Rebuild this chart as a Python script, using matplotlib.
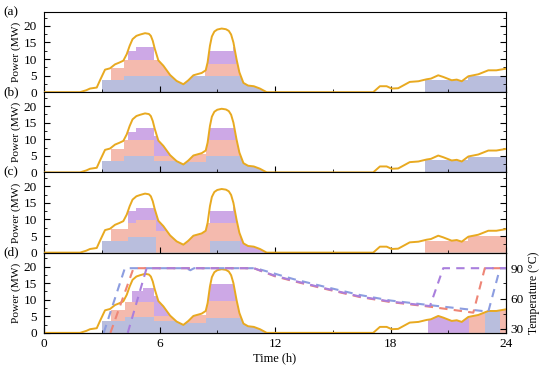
import numpy as np
import matplotlib
matplotlib.use('Agg')
import matplotlib.pyplot as plt
from matplotlib.patches import Polygon
from matplotlib.ticker import MultipleLocator

plt.rcParams['font.family'] = ['Liberation Serif', 'DejaVu Serif']

# load curve (h, MW), same in every panel
load_t = [0, 1.87, 2.2, 2.39, 2.74, 2.91, 3.17, 3.43, 3.69, 3.9, 4.12, 4.3, 4.45, 4.6, 4.8, 5.0, 5.25,
          5.45, 5.55, 5.65, 5.75, 5.94, 6.2, 6.55, 6.89, 7.24, 7.5, 7.76, 8.19, 8.4, 8.5, 8.62, 8.72,
          8.85, 9.0, 9.23, 9.45, 9.6, 9.72, 9.84, 10.0, 10.15, 10.36, 10.6, 10.9, 11.22, 11.57, 17.1,
          17.45, 17.8, 18.06, 18.4, 19.0, 19.45, 19.88, 20.1, 20.48, 20.74, 21.18, 21.44, 21.7,
          22.04, 22.56, 23.08, 23.5, 24]
load_p = [0, 0, 0.6, 1.1, 1.4, 3.6, 6.8, 7.2, 8.4, 8.9, 9.5, 11.5, 14.0, 16.0, 17.0, 17.4, 17.8,
          17.6, 17.0, 15.5, 13.2, 9.6, 8.0, 5.2, 3.4, 2.4, 3.6, 5.1, 5.8, 6.6, 9.0, 14.0, 16.8,
          18.3, 18.9, 19.2, 19.0, 18.5, 17.4, 15.0, 10.0, 6.0, 2.8, 2.0, 1.8, 1.1, 0, 0,
          1.8, 1.8, 1.1, 1.2, 3.1, 3.3, 3.9, 4.1, 5.1, 4.6, 3.6, 3.8, 3.3,
          4.8, 5.4, 6.6, 6.6, 7.1]

# stacked step layers per panel: breakpoints (h) and levels (MW) for blue, pink, purple
a_t = [0, 3.0, 3.5, 4.15, 4.35, 4.8, 5.7, 7.0, 8.35, 8.5, 9.8, 10.0, 11.6, 19.8, 22.0, 24]
a_blue = [0, 3.6, 3.6, 5, 5, 5, 5, 5, 5, 5, 5, 5, 0, 3.6, 4.8]
a_pink = [0, 0, 3.7, 4.7, 4.7, 4.7, 4.7, 0, 3.6, 3.6, 3.6, 3.6, 0, 0, 0]
a_purp = [0, 0, 0, 0, 2.6, 4.0, 0, 0, 0, 3.8, 5.0, 0, 0, 0, 0]

b_t = [0, 3.0, 3.5, 4.15, 4.35, 4.8, 5.7, 7.2, 8.4, 8.55, 10.0, 11.6, 19.8, 22.0, 24]
b_blue = [0, 3.5, 3.5, 5, 5, 5, 3.5, 3.0, 5, 5, 5, 0, 3.6, 4.8]
b_pink = [0, 0, 3.6, 4.75, 4.75, 4.75, 1.5, 2.5, 4.75, 4.75, 4.75, 0, 0, 0]
b_purp = [0, 0, 0, 0, 2.3, 3.75, 6, 0, 0, 3.75, 0, 0, 0, 0]

c_t = [0, 3.0, 3.5, 4.35, 4.8, 5.8, 7.2, 8.6, 9.8, 10.2, 11.6, 19.8, 22.0, 24]
c_blue = [0, 3.5, 3.5, 4.8, 4.8, 0, 0, 3.5, 3.5, 0, 0, 0, 0]
c_pink = [0, 0, 3.6, 4.0, 4.95, 6.5, 8.8, 5.3, 5.3, 0, 0, 3.5, 5.0]
c_purp = [0, 0, 0, 3.7, 3.75, 7, 0, 3.7, 4.9, 14, 0, 0, 0]

d_t = [0, 3.0, 3.5, 4.2, 4.55, 5.15, 5.7, 7.2, 8.4, 8.55, 10.0, 11.6, 19.95, 22.1, 22.9, 23.7, 24]
d_blue = [0, 3.5, 3.5, 4.7, 4.7, 4.7, 3.5, 3.0, 4.5, 4.5, 4.5, 0, 0, 0, 8, 0]
d_pink = [0, 0, 3.5, 4.6, 4.6, 4.6, 1.5, 2.5, 5.0, 5.0, 5.0, 0, 0, 8, 0, 8]
d_purp = [0, 0, 0, 0, 3.3, 4.3, 6, 0, 0, 5.1, 0, 0, 8, 0, 0, 0]

# temperatures in panel (d)
tb_t = [3.1, 4.2, 7.4, 7.6, 7.8, 11.0, 12, 13, 14.5, 16.4, 18, 20, 23.08, 23.69, 24]
tb_v = [26, 90, 90, 88, 90, 90, 84.5, 79, 72, 63.5, 58, 53.5, 47, 90, 90]
tp_t = [3.45, 4.65, 10.9, 12, 13, 14.5, 16.4, 18, 20, 22.3, 22.9, 24]
tp_v = [26, 90, 90, 82, 77, 70, 61.5, 56.5, 52, 46, 90, 90]
tu_t = [4.35, 5.33, 10.9, 12, 13, 14.5, 16.4, 18, 20.05, 20.74, 24]
tu_v = [26, 90, 90, 82.5, 77.5, 70.5, 62, 57, 52.5, 90, 90]

fill_colors = ['#b9bedd', '#f4baae', '#cda8e6']
line_colors = ['#8c9de0', '#ee8576', '#a97fdd']
yellow = '#e8a920'

fig, axes = plt.subplots(4, 1, figsize=(5.5, 3.74), dpi=100, sharex=True)
fig.subplots_adjust(left=0.08, right=0.92, top=0.968, bottom=0.11, hspace=0)

panels = [(a_t, a_blue, a_pink, a_purp), (b_t, b_blue, b_pink, b_purp),
          (c_t, c_blue, c_pink, c_purp), (d_t, d_blue, d_pink, d_purp)]
letters = ['(a)', '(b)', '(c)', '(d)']

for ax, (t, lb, lp, lu), lab in zip(axes, panels, letters):
    verts = list(zip(load_t, load_p)) + [(24, 0)]
    clip = Polygon(verts, closed=True, transform=ax.transData, facecolor='none', edgecolor='none')
    base = np.zeros(len(t))
    for vals, c in zip([lb, lp, lu], fill_colors):
        v = np.append(vals, vals[-1])
        top = base + v
        coll = ax.fill_between(t, base, top, step='post', color=c, lw=0)
        coll.set_clip_path(clip)
        base = top
    ax.plot(load_t, load_p, color=yellow, lw=1.4, zorder=5)
    ax.set_xlim(0, 24)
    ax.set_ylim(0, 24.2)
    ax.set_yticks([0, 5, 10, 15, 20])
    ax.yaxis.set_minor_locator(MultipleLocator(2.5))
    ax.xaxis.set_major_locator(MultipleLocator(6))
    ax.xaxis.set_minor_locator(MultipleLocator(3))
    ax.tick_params(which='both', direction='in', right=True, top=False, labelsize=9.5)
    ax.tick_params(axis='y', pad=5)
    ax.tick_params(which='major', length=4)
    ax.tick_params(which='minor', length=2)
    ax.set_ylabel('Power (MW)', fontsize=8.2, labelpad=2)
    ax.text(-0.087, 1.0, lab, transform=ax.transAxes, ha='left', va='center', fontsize=9.5)

ax = axes[3]
ax.set_xlabel('Time (h)', fontsize=9, labelpad=2)
ax.tick_params(right=False, which='both')
tw = ax.twinx()
tw.plot(tb_t, tb_v, color=line_colors[0], lw=1.5, ls=(0, (4, 3)))
tw.plot(tp_t, tp_v, color=line_colors[1], lw=1.5, ls=(0, (4, 3)))
tw.plot(tu_t, tu_v, color=line_colors[2], lw=1.5, ls=(0, (4, 3)))
tw.set_ylim(26, 105.4)
tw.set_yticks([30, 60, 90])
tw.yaxis.set_minor_locator(MultipleLocator(15))
tw.tick_params(which='both', direction='in', labelsize=9.5)
tw.tick_params(which='major', length=4)
tw.tick_params(which='minor', length=2)
tw.set_ylabel('Temperature (°C)', fontsize=8.5, labelpad=3)

fig.savefig('out.png', dpi=100)
